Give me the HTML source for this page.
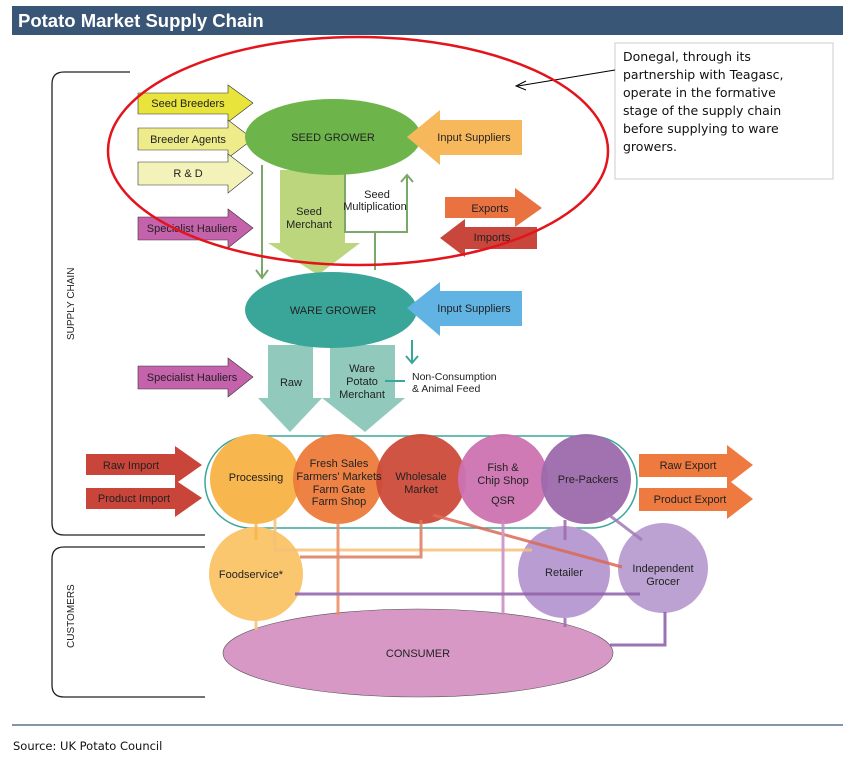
<!DOCTYPE html>
<html><head><meta charset="utf-8"><style>
body{margin:0;background:#fff;width:850px;height:759px;overflow:hidden;font-family:"Liberation Sans",sans-serif}
</style></head><body>
<svg width="850" height="759" viewBox="0 0 850 759" xmlns="http://www.w3.org/2000/svg" font-family="Liberation Sans, sans-serif">
<rect x="12" y="6" width="831" height="29" fill="#3a5676"/>
<text x="18" y="27" fill="#fff" font-size="18.5" font-weight="bold">Potato Market Supply Chain</text>
<rect x="615" y="43" width="218" height="136" fill="#fff" stroke="#ccc"/>
<g font-size="12.5" fill="#111" font-family="DejaVu Sans, Liberation Sans, sans-serif">
<text x="623" y="61">Donegal, through its</text>
<text x="623" y="79">partnership with Teagasc,</text>
<text x="623" y="97">operate in the formative</text>
<text x="623" y="115">stage of the supply chain</text>
<text x="623" y="133">before supplying to ware</text>
<text x="623" y="151">growers.</text>
</g>
<line x1="615" y1="70" x2="518" y2="86" stroke="#000" stroke-width="1"/>
<path d="M526,81 L516,86 L526,90" fill="none" stroke="#000"/>
<path d="M130,72 L64,72 Q52,72 52,84 L52,523 Q52,535 64,535 L205,535" fill="none" stroke="#222" stroke-width="1.3"/>
<path d="M205,547 L64,547 Q52,547 52,559 L52,685 Q52,697 64,697 L205,697" fill="none" stroke="#222" stroke-width="1.3"/>
<text transform="translate(74,340) rotate(-90)" font-size="10" fill="#222">SUPPLY CHAIN</text>
<text transform="translate(74,648) rotate(-90)" font-size="10" fill="#222">CUSTOMERS</text>
<g stroke="#333" stroke-width="0.6">
<polygon points="138,93 228,93 228,85 253,103 228,122 228,114 138,114" fill="#e8e43c"/>
<polygon points="138,128 228,128 228,120 253,139 228,158 228,150 138,150" fill="#eeec8a"/>
<polygon points="138,162 228,162 228,154 253,173 228,193 228,185 138,185" fill="#f3f2b8"/>
<polygon points="138,217 228,217 228,209 253,228 228,248 228,240 138,240" fill="#c562ac"/>
<polygon points="138,366 228,366 228,358 253,377 228,397 228,389 138,389" fill="#c562ac"/>
</g>
<g font-size="11" fill="#222" text-anchor="middle">
<text x="188" y="107">Seed Breeders</text>
<text x="188" y="143">Breeder Agents</text>
<text x="188" y="177">R &amp; D</text>
<text x="192" y="232">Specialist Hauliers</text>
<text x="192" y="381">Specialist Hauliers</text>
</g>
<polygon points="280,170 345,170 345,243 360,243 318,275 268,243 280,243" fill="#bcd67e"/>
<text x="309" y="215" font-size="11" text-anchor="middle" fill="#222">Seed</text>
<text x="309" y="228" font-size="11" text-anchor="middle" fill="#222">Merchant</text>
<g stroke="#7aa868" stroke-width="2" fill="none">
<path d="M262,165 L262,278"/><path d="M256,270 L262,278 L268,270"/>
<path d="M345,172 L345,232 L375,232 L375,270"/>
<path d="M375,232 L407,232 L407,176"/><path d="M401,182 L407,175 L413,182"/>
</g>
<text x="377" y="198" font-size="11" text-anchor="middle" fill="#222">Seed</text>
<text x="375" y="210" font-size="11" text-anchor="middle" fill="#222">Multiplication</text>
<ellipse cx="333" cy="137" rx="88" ry="38" fill="#6db54b"/>
<text x="333" y="141" font-size="11" text-anchor="middle" fill="#222">SEED GROWER</text>
<polygon points="522,120 440,120 440,110 407,137 440,165 440,155 522,155" fill="#f7b85c"/>
<text x="474" y="141" font-size="11" text-anchor="middle" fill="#222">Input Suppliers</text>
<polygon points="445,197 515,197 515,188 542,208 515,227 515,218 445,218" fill="#ea7240"/>
<polygon points="537,227 465,227 465,219 440,238 465,257 465,249 537,249" fill="#c9463c"/>
<text x="490" y="212" font-size="11" text-anchor="middle" fill="#222">Exports</text>
<text x="492" y="241" font-size="11" text-anchor="middle" fill="#222">Imports</text>
<polygon points="268,345 313,345 313,398 322,398 290,432 258,398 268,398" fill="#91cabc"/>
<polygon points="330,345 395,345 395,398 405,398 365,432 322,398 330,398" fill="#91cabc"/>
<ellipse cx="331" cy="310" rx="86" ry="38" fill="#3aa69a"/>
<text x="333" y="314" font-size="11" text-anchor="middle" fill="#222">WARE GROWER</text>
<polygon points="522,291 440,291 440,282 407,308 440,336 440,326 522,326" fill="#60b3e2"/>
<text x="474" y="312" font-size="11" text-anchor="middle" fill="#222">Input Suppliers</text>
<g stroke="#3aa69a" stroke-width="2" fill="none"><path d="M412,340 L412,362"/><path d="M406,356 L412,363 L418,356"/><path d="M385,381 L405,381"/></g>
<text x="291" y="386" font-size="11" text-anchor="middle" fill="#222">Raw</text>
<text x="362" y="372" font-size="11" text-anchor="middle" fill="#222">Ware</text>
<text x="362" y="385" font-size="11" text-anchor="middle" fill="#222">Potato</text>
<text x="362" y="398" font-size="11" text-anchor="middle" fill="#222">Merchant</text>
<text x="412" y="380" font-size="10.5" fill="#222">Non-Consumption</text>
<text x="412" y="392" font-size="10.5" fill="#222">&amp; Animal Feed</text>
<ellipse cx="358" cy="151" rx="250" ry="114" fill="none" stroke="#e3141c" stroke-width="2.5"/>
<rect x="205" y="436" width="432" height="92" rx="46" fill="#fff" stroke="#3aa69a" stroke-width="1.5"/>
<polygon points="86,454 175,454 175,446 202,465 175,484 175,475 86,475" fill="#c9453a"/>
<polygon points="86,488 175,488 175,480 202,498 175,517 175,509 86,509" fill="#c9453a"/>
<polygon points="639,454 727,454 727,445 753,465 727,485 727,477 639,477" fill="#ee7a40"/>
<polygon points="639,488 727,488 727,479 753,499 727,519 727,511 639,511" fill="#ee7a40"/>
<g font-size="11" fill="#222" text-anchor="middle">
<text x="131" y="469">Raw Import</text><text x="134" y="502">Product Import</text>
<text x="688" y="469">Raw Export</text><text x="690" y="503">Product Export</text>
</g>
<circle cx="255" cy="479" r="45" fill="#f7b64e"/>
<circle cx="338" cy="479" r="45" fill="#ec7b3a" opacity="0.95"/>
<circle cx="421" cy="479" r="45" fill="#cc4b3a" opacity="0.95"/>
<circle cx="503" cy="479" r="45" fill="#cc72b1" opacity="0.95"/>
<circle cx="586" cy="479" r="45" fill="#9d6aac" opacity="0.95"/>
<g font-size="11" fill="#222" text-anchor="middle">
<text x="256" y="481">Processing</text>
<text x="339" y="467">Fresh Sales</text><text x="339" y="480">Farmers' Markets</text><text x="339" y="493">Farm Gate</text><text x="339" y="505">Farm Shop</text>
<text x="421" y="480">Wholesale</text><text x="421" y="493">Market</text>
<text x="503" y="471">Fish &amp;</text><text x="503" y="484">Chip Shop</text><text x="503" y="504">QSR</text>
<text x="588" y="483">Pre-Packers</text>
</g>
<circle cx="256" cy="574" r="47" fill="#fac66e"/>
<circle cx="564" cy="572" r="46" fill="#b99cd2"/>
<circle cx="663" cy="568" r="45" fill="#bba2d2"/>
<ellipse cx="418" cy="653" rx="195" ry="44" fill="#d898c6" stroke="#555" stroke-width="0.6"/>
<g fill="none" stroke-width="3" opacity="0.85">
<path d="M256,517 L256,540" stroke="#f7b64e"/>
<path d="M275,518 L275,550 L532,550" stroke="#f7c07a"/>
<path d="M338,520 L338,615" stroke="#ec8a60"/>
<path d="M421,520 L421,557 L300,557" stroke="#dc7a60"/>
<path d="M433,515 L622,567" stroke="#dc6a58"/>
<path d="M503,520 L503,615" stroke="#c88ac0"/>
<path d="M565,520 L565,540" stroke="#9d6aac"/>
<path d="M605,512 L642,540" stroke="#a07ab8"/>
<path d="M640,594 L295,594" stroke="#9060a8"/>
<path d="M565,618 L565,627" stroke="#9d6aac"/>
<path d="M665,612 L665,645 L610,645" stroke="#8a5aa8"/>
<path d="M256,620 L256,630" stroke="#f7c07a"/>
</g>
<g font-size="11" fill="#222" text-anchor="middle">
<text x="251" y="578">Foodservice*</text>
<text x="564" y="576">Retailer</text>
<text x="663" y="572">Independent</text><text x="663" y="585">Grocer</text>
<text x="418" y="657">CONSUMER</text>
</g>
<line x1="12" y1="725" x2="843" y2="725" stroke="#3a5676" stroke-width="1.2"/>
<text x="13" y="750" font-size="11.5" fill="#111" font-family="DejaVu Sans, sans-serif">Source: UK Potato Council</text>
</svg>
</body></html>
